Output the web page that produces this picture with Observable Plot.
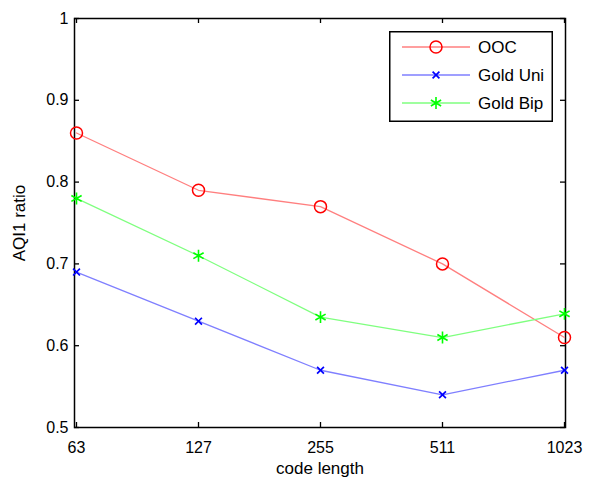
<!DOCTYPE html>
<html>
<head>
<meta charset="utf-8">
<script src="https://cdn.jsdelivr.net/npm/d3@7"></script>
<script src="https://cdn.jsdelivr.net/npm/@observablehq/plot@0.6"></script>
<style>
  html, body { margin: 0; padding: 0; background: white; }
  #wrap { position: relative; width: 589px; height: 477px; overflow: hidden; }
  #legend { position: absolute; left: 389px; top: 31px; }
</style>
</head>
<body>
<div id="wrap"></div>
<script>
// ---- data ----
const codeLengths = ["63", "127", "255", "511", "1023"];
const seriesNames = ["OOC", "Gold Uni", "Gold Bip"];
const oocValues = [0.86, 0.79, 0.77, 0.70, 0.61];
const goldUniValues = [0.69, 0.63, 0.57, 0.54, 0.57];
const goldBipValues = [0.78, 0.71, 0.635, 0.61, 0.639];
const yTicks = [0.5, 0.6, 0.7, 0.8, 0.9, 1];
const xLabel = "code length";
const yLabel = "AQI1 ratio";

// ---- styles ----
const seriesValues = [oocValues, goldUniValues, goldBipValues];
const markerColors = ["#ff0000", "#0000ff", "#00ff00"];
const lineColors = ["#ff7f7f", "#7f7fff", "#7fff7f"];
const markerSymbols = ["circle", "times", "asterisk"];
const markerR = [6, 3.2, 5.6];
const markerStrokeWidth = [1.5, 1.7, 1.6];

const rows = [];
seriesNames.forEach((name, i) => {
  codeLengths.forEach((c, j) => rows.push({series: name, code: c, value: seriesValues[i][j]}));
});

const W = 589, H = 477, mL = 74, mR = 24, mT = 18, mB = 50;
const frameW = W - mL - mR, frameH = H - mT - mB;
const tickLen = 5;
const font = "'Liberation Sans', Arial, Helvetica, sans-serif";

const marks = [
  Plot.frame({stroke: "black", strokeWidth: 1.5}),
  Plot.tickX(codeLengths, {x: d => d, insetTop: frameH - tickLen, stroke: "black", strokeWidth: 1.3}),
  Plot.tickX(codeLengths, {x: d => d, insetBottom: frameH - tickLen, stroke: "black", strokeWidth: 1.3}),
  Plot.tickY(yTicks, {y: d => d, insetRight: frameW - tickLen, stroke: "black", strokeWidth: 1.3}),
  Plot.tickY(yTicks, {y: d => d, insetLeft: frameW - tickLen, stroke: "black", strokeWidth: 1.3}),
  Plot.axisX({tickSize: 0, tickPadding: 14, fontSize: 16, label: null}),
  Plot.axisX({tickSize: 0, tickFormat: () => "", fontSize: 17, label: xLabel, labelAnchor: "center", labelOffset: 46, labelArrow: "none"}),
  Plot.axisY({ticks: yTicks, tickFormat: d => String(d), tickSize: 0, tickPadding: 6, fontSize: 16, label: null}),
  Plot.axisY({ticks: yTicks, tickFormat: () => "", tickSize: 0, fontSize: 17, label: yLabel, labelAnchor: "center", labelOffset: 62, labelArrow: "none"})
];
seriesNames.forEach((name, i) => {
  const data = rows.filter(r => r.series === name);
  marks.push(Plot.line(data, {x: "code", y: "value", stroke: lineColors[i], strokeWidth: 1.3}));
});
seriesNames.forEach((name, i) => {
  const data = rows.filter(r => r.series === name);
  marks.push(Plot.dot(data, {x: "code", y: "value", symbol: markerSymbols[i], r: markerR[i], stroke: markerColors[i], strokeWidth: markerStrokeWidth[i], fill: "none"}));
});

const chart = Plot.plot({
  width: W, height: H,
  marginLeft: mL, marginRight: mR, marginTop: mT, marginBottom: mB,
  style: {fontFamily: font, fontSize: "16px", background: "white", color: "black", overflow: "visible"},
  x: {type: "point", domain: codeLengths, padding: 0},
  y: {type: "linear", domain: [0.5, 1]},
  marks
});
document.getElementById("wrap").appendChild(chart);

// ---- legend (MATLAB-style box) ----
const lw = 164, lh = 91;
const legend = d3.create("svg").attr("id", "legend").attr("width", lw).attr("height", lh)
  .style("font-family", font).style("font-size", "17px");
legend.append("rect").attr("x", 0.75).attr("y", 0.75).attr("width", lw - 1.5).attr("height", lh - 1.5)
  .attr("fill", "white").attr("stroke", "black").attr("stroke-width", 1.5);
const symbolTypes = {circle: d3.symbolCircle, times: d3.symbolTimes, asterisk: d3.symbolAsterisk};
seriesNames.forEach((name, i) => {
  const cy = 16 + i * 28;
  legend.append("line").attr("x1", 13).attr("x2", 81).attr("y1", cy).attr("y2", cy)
    .attr("stroke", lineColors[i]).attr("stroke-width", 1.3);
  legend.append("path").attr("transform", `translate(47,${cy})`)
    .attr("d", d3.symbol(symbolTypes[markerSymbols[i]], Math.PI * markerR[i] * markerR[i])())
    .attr("fill", "none").attr("stroke", markerColors[i]).attr("stroke-width", markerStrokeWidth[i]);
  legend.append("text").attr("x", 89).attr("y", cy).attr("dy", "0.35em").text(name);
});
document.getElementById("wrap").appendChild(legend.node());
</script>
</body>
</html>
